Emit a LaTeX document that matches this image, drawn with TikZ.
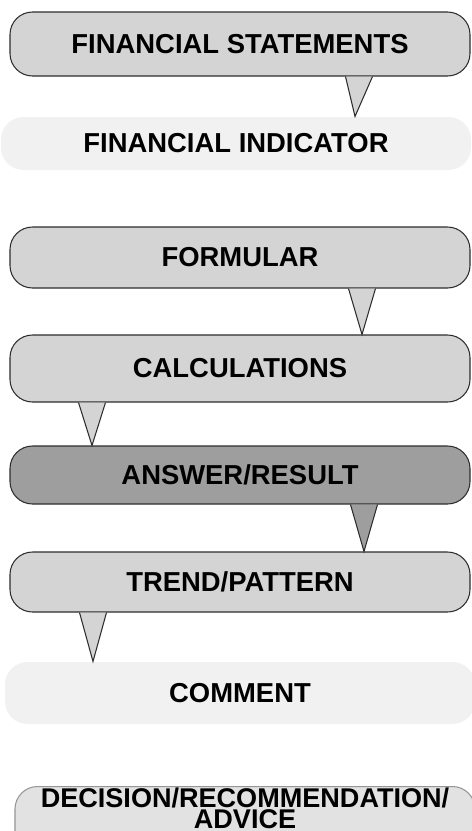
\documentclass[tikz,border=0pt]{standalone}
\usepackage{fontspec}
\setmainfont{Liberation Sans}
\usetikzlibrary{positioning,calc}
\definecolor{bubgray}{RGB}{212,212,212}
\definecolor{bubdark}{RGB}{158,158,158}
\definecolor{bubpale}{RGB}{241,241,241}
\definecolor{bublite}{RGB}{226,226,226}
\definecolor{edgegray}{RGB}{45,45,45}
\tikzset{
  bub/.style={draw=edgegray, fill=bubgray, line width=0.6pt, rounded corners=0.45cm,
              minimum width=9.2cm, inner sep=2pt, align=center,
              font=\fontsize{15.6}{18.7}\selectfont\bfseries},
  bubdk/.style={bub, fill=bubdark},
  bubpl/.style={bub, draw=none, fill=bubpale, minimum width=9.4cm},
  tailedge/.style={draw=edgegray, line width=0.6pt},
}
% speech-bubble tail: from, to, x offset of tip (cm), fill
\newcommand{\bubtail}[4]{%
  \filldraw[tailedge, fill=#4] ([xshift=#3cm-0.27cm]#1.south) -- ([xshift=#3cm]#2.north)
     -- ([xshift=#3cm+0.27cm]#1.south);}

\begin{document}
\begin{tikzpicture}
  \useasboundingbox (0,0) rectangle (9.44,-16.62);
  \clip (0,0) rectangle (9.44,-16.62);
  \node[bub, minimum height=1.28cm] (stmt) at (4.8,-0.88) {FINANCIAL STATEMENTS};
  \node[bubpl, minimum height=1.06cm] (indic) at (4.72,-2.87) {FINANCIAL INDICATOR};
  \node[bub, minimum height=1.22cm] (form) at (4.8,-5.15) {FORMULAR};
  \node[bub, minimum height=1.34cm] (calc) at (4.8,-7.37) {CALCULATIONS};
  \node[bubdk, minimum height=1.16cm] (answ) at (4.8,-9.5) {ANSWER/RESULT};
  \node[bub, minimum height=1.2cm] (trend) at (4.8,-11.64) {TREND/PATTERN};
  \node[bubpl, minimum height=1.24cm] (comm) at (4.8,-13.86) {COMMENT};
  \node[bub, draw=edgegray!50, fill=bublite, inner ysep=1pt, anchor=north, text depth=0.8cm,
        font=\fontsize{15.4}{18.5}\selectfont\bfseries] (decis)
       at (4.9,-15.72) {DECISION/RECOMMENDATION/\\[-6.9pt]ADVICE};
  \bubtail{stmt}{indic}{2.38}{bubgray}
  \bubtail{form}{calc}{2.44}{bubgray}
  \bubtail{calc}{answ}{-2.96}{bubgray}
  \bubtail{answ}{trend}{2.48}{bubdark}
  \bubtail{trend}{comm}{-2.94}{bubgray}
\end{tikzpicture}
\end{document}
